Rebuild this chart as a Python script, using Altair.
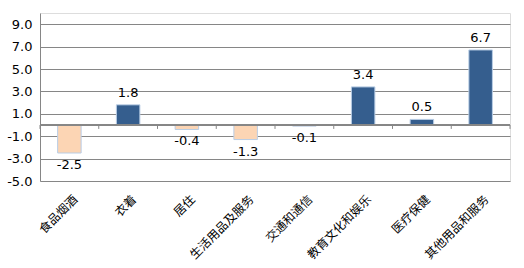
import altair as alt
import pandas as pd

# CPI change by category (%)
categories = ["食品烟酒", "衣着", "居住", "生活用品及服务",
              "交通和通信", "教育文化和娱乐", "医疗保健", "其他用品和服务"]
values = [-2.5, 1.8, -0.4, -1.3, -0.1, 3.4, 0.5, 6.7]
y_ticks = [-5, -3, -1, 1, 3, 5, 7, 9]

df = pd.DataFrame({
    "cat": categories,
    "value": values,
    "label": [f"{v:.1f}" for v in values],
})

POS = "#355E8E"
NEG = "#FCD5B4"
EDGE = "#B9CDE5"
GRID = "#868686"

x_enc = alt.X(
    "cat:N", sort=categories, title=None,
    scale=alt.Scale(paddingInner=0, paddingOuter=0),
    axis=alt.Axis(
        domain=False, ticks=False, labelAngle=-45, labelAlign="right",
        labelBaseline="middle", labelPadding=16, labelOffset=6,
        labelFont="Noto Sans CJK SC", labelFontSize=12, labelColor="#000000",
    ),
)
y_scale = alt.Scale(domain=[-5, 10], nice=False, zero=False)
y_axis = alt.Axis(
    values=y_ticks, grid=True, gridColor=GRID, gridWidth=1,
    domainColor=GRID, ticks=False, labelPadding=8, labelOverlap=False,
    labelFont="DejaVu Sans", labelFontSize=13, labelColor="#000000",
    labelExpr="(datum.value < 0 ? '-' : '') + format(abs(datum.value), '.1f')",
)

base = alt.Chart(df)

bars = base.mark_bar(
    width=alt.RelativeBandSize(0.4), stroke=EDGE, strokeWidth=1
).encode(
    x=x_enc,
    y=alt.Y("value:Q", scale=y_scale, title=None, axis=y_axis),
    y2=alt.datum(0),
    color=alt.condition(alt.datum.value > 0, alt.value(POS), alt.value(NEG)),
)

# zero baseline with category separator ticks
zero_line = base.mark_rule(color=GRID, strokeWidth=1).encode(
    y=alt.Y(datum=0, scale=y_scale, axis=y_axis)
)

sep_left = base.mark_rule(color=GRID, strokeWidth=1).encode(
    x=alt.X("cat:N", sort=categories, bandPosition=0),
    y=alt.Y(datum=0, scale=y_scale, axis=y_axis), y2=alt.datum(-0.35),
)
sep_right = base.transform_filter(
    alt.datum.cat == categories[-1]
).mark_rule(color=GRID, strokeWidth=1).encode(
    x=alt.X("cat:N", sort=categories, bandPosition=1),
    y=alt.Y(datum=0, scale=y_scale, axis=y_axis), y2=alt.datum(-0.35),
)

text_style = dict(font="DejaVu Sans", fontSize=13, color="#000000", baseline="middle")
pos_text = base.transform_filter(alt.datum.value > 0).mark_text(dy=-12, **text_style).encode(
    x=alt.X("cat:N", sort=categories),
    y=alt.Y("value:Q", scale=y_scale, axis=y_axis), text="label:N"
)
neg_text = base.transform_filter(alt.datum.value <= 0).mark_text(dy=12, **text_style).encode(
    x=alt.X("cat:N", sort=categories),
    y=alt.Y("value:Q", scale=y_scale, axis=y_axis), text="label:N"
)

chart = alt.layer(
    bars, zero_line, sep_left, sep_right, pos_text, neg_text
).properties(
    width=470, height=168,
    autosize=alt.AutoSizeParams(type="none"),
    padding={"left": 40, "top": 13, "right": 14, "bottom": 87},
).configure_view(stroke=None).configure(background="#FFFFFF")

chart.save("out.html", embed_options={"renderer": "svg", "actions": False})
